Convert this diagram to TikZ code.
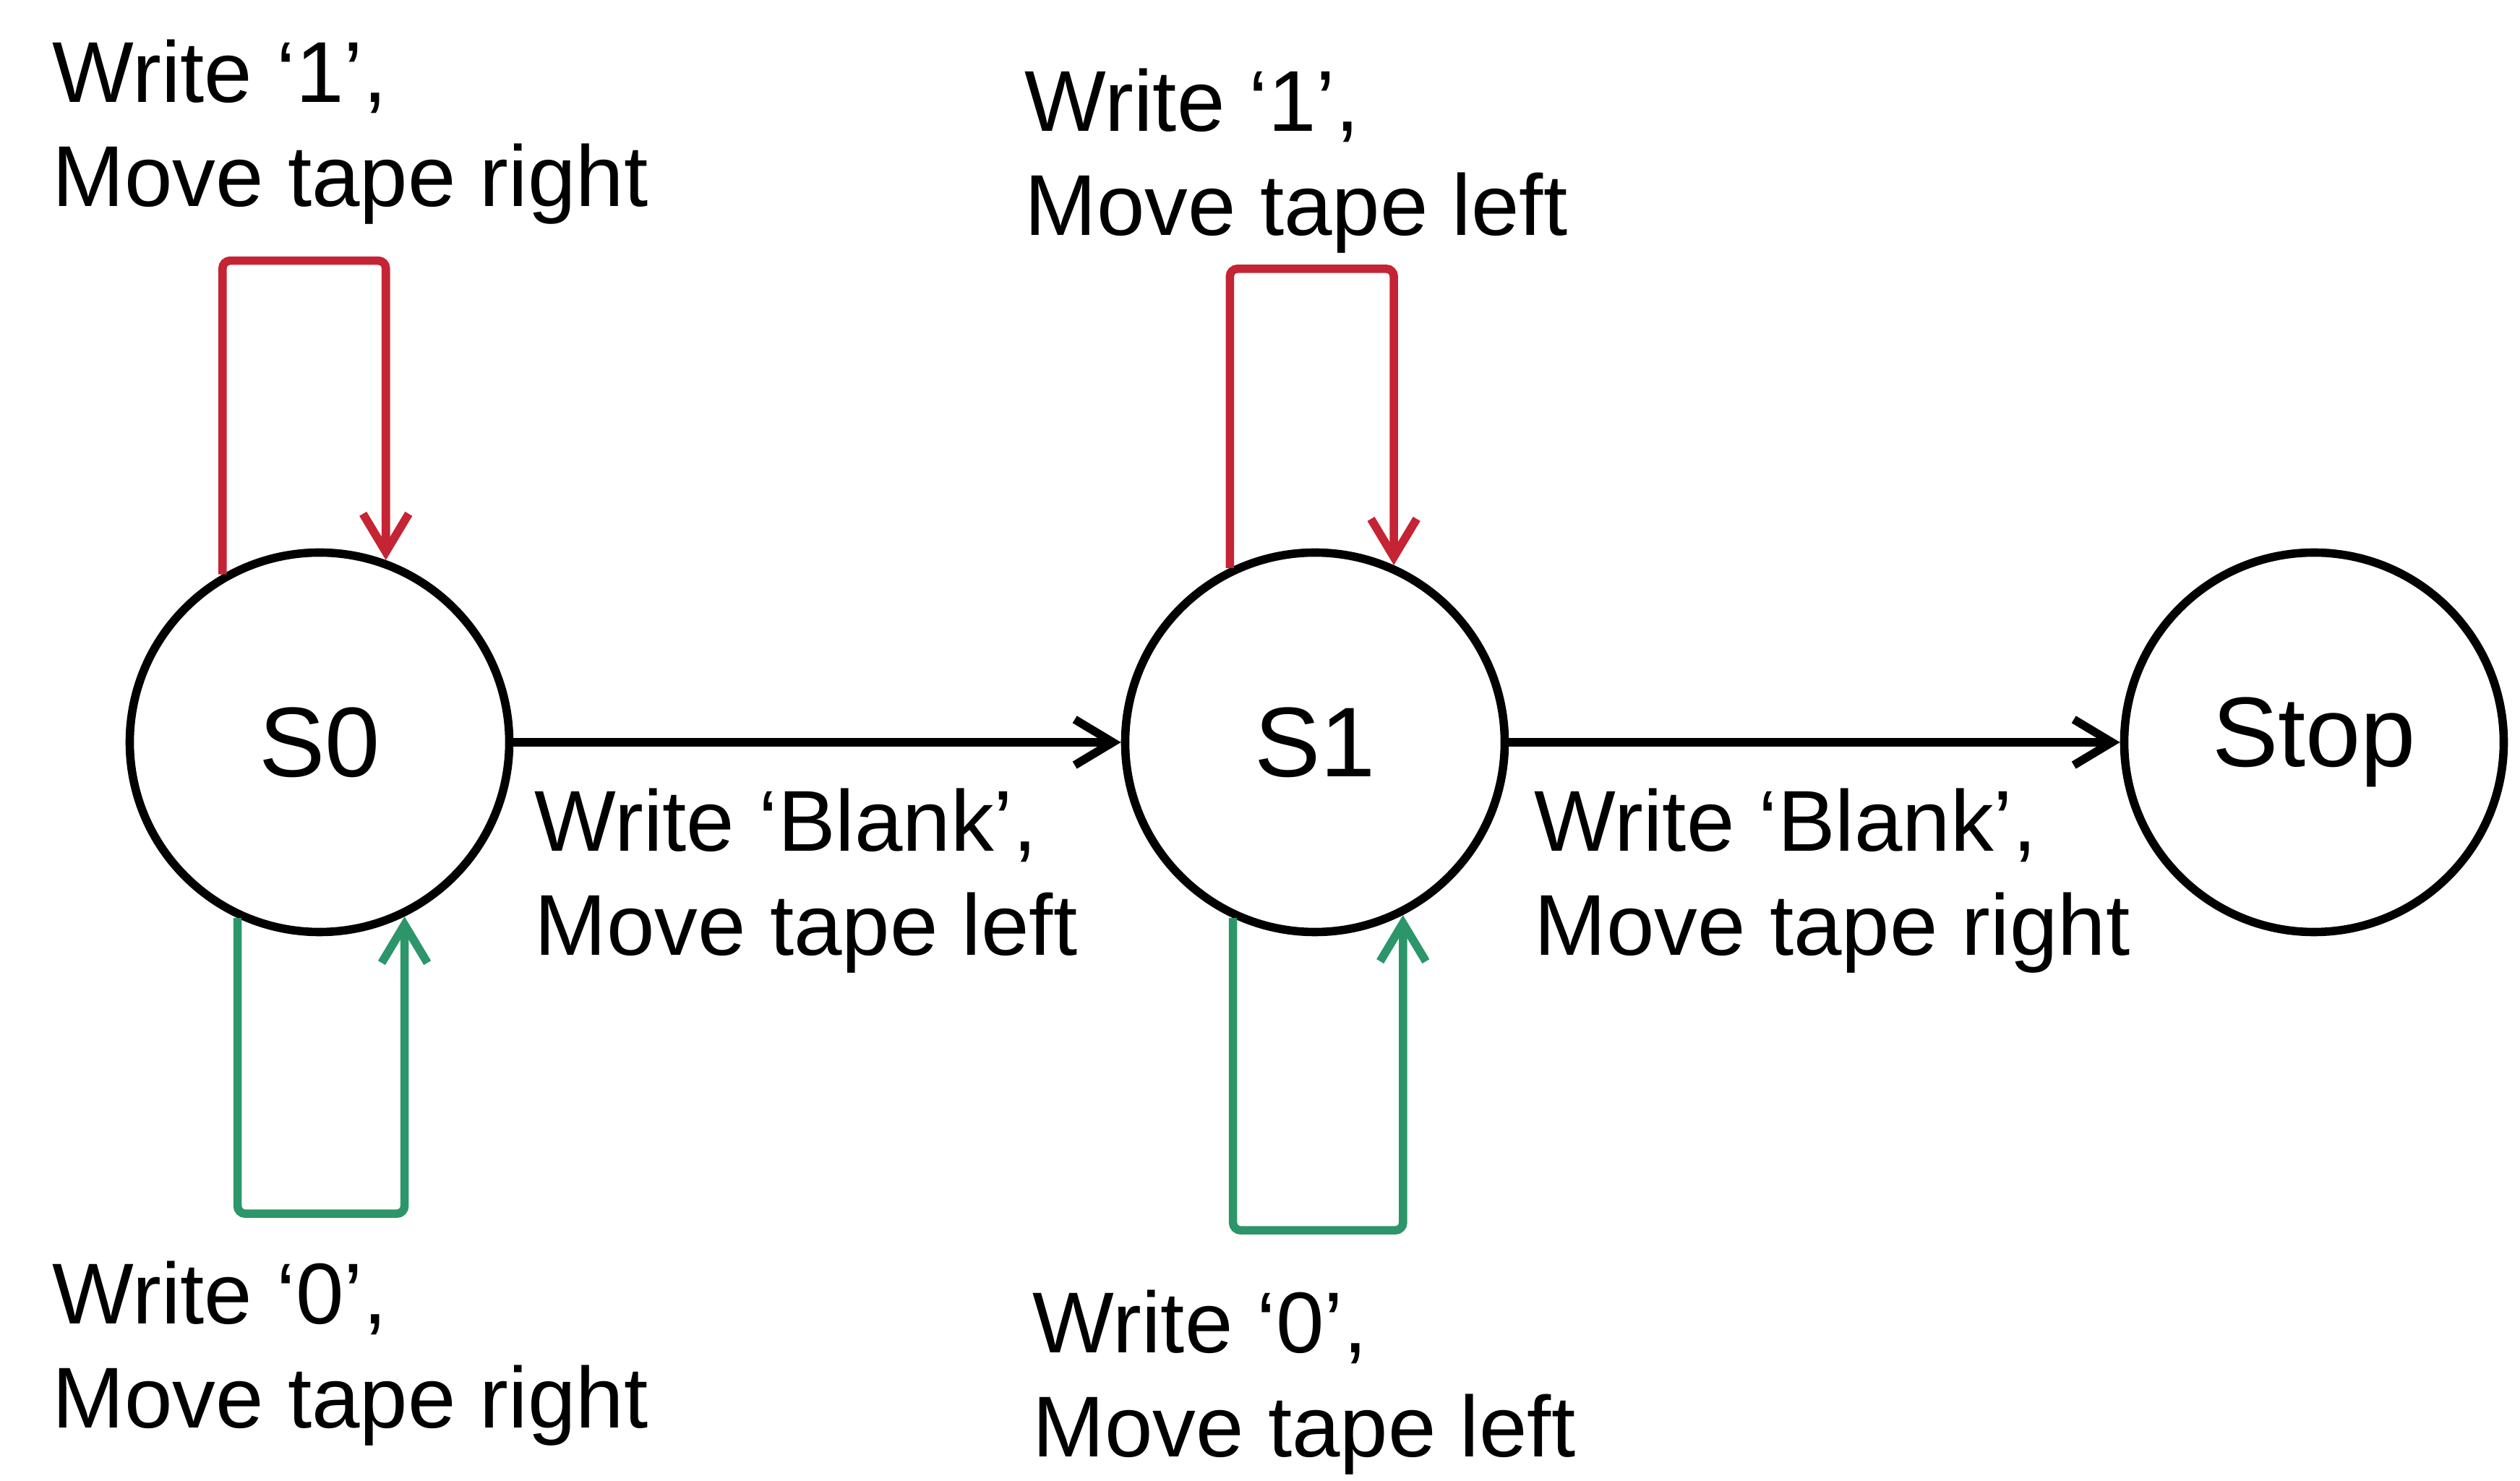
\documentclass[tikz,border=0pt]{standalone}
\usepackage{fontspec}
\setmainfont{Liberation Sans}
\usetikzlibrary{arrows.meta}
\definecolor{loopred}{RGB}{196,36,52}
\definecolor{loopgreen}{RGB}{44,150,106}

\begin{document}
\begin{tikzpicture}[>={Straight Barb[length=15pt,width=18pt]},line join=miter,line width=3.3pt,
  state/.style={circle,draw,minimum size=5.25cm,inner sep=0pt,font=\fontsize{39}{47}\selectfont},
  lbl/.style={anchor=north west,inner sep=0pt,align=left,font=\fontsize{34}{41}\selectfont},
  redloop/.style={->,draw=loopred,rounded corners=3pt},
  greenloop/.style={->,draw=loopgreen,rounded corners=3pt}]
  \useasboundingbox (0,0) rectangle (34.86,20.49);
%%
  % Node: S0
  \node[state] (s0) at (4.42,10.22) {S0};
  % Node: S1
  \node[state] (s1) at (18.19,10.22) {S1};
  % Node: Stop
  \node[state] (stop) at (32.01,10.22) {Stop};
  % Edge: S0 -> S1
  \draw[->] (s0) -- (s1);
  \node[lbl] (lbl01) at (7.34,9.64) {Write ‘Blank’,\\Move tape left};
  % Edge: S1 -> Stop
  \draw[->] (s1) -- (stop);
  \node[lbl] (lbl1stop) at (21.17,9.64) {Write ‘Blank’,\\Move tape right};
  % Edge: S0 -> S0 (red)
  \draw[redloop] (s0.120) -- ++(0,4.34) -| (s0.70);
  \node[lbl] (lbl00a) at (0.67,20.0) {Write ‘1’,\\Move tape right};
  % Edge: S0 -> S0 (green)
  \draw[greenloop] (s0.-115) -- ++(0,-4.09) -| (s0.-64);
  \node[lbl] (lbl00b) at (0.67,3.10) {Write ‘0’,\\Move tape right};
  % Edge: S1 -> S1 (red)
  \draw[redloop] (s1.116) -- ++(0,4.14) -| (s1.66);
  \node[lbl] (lbl11a) at (14.12,19.60) {Write ‘1’,\\Move tape left};
  % Edge: S1 -> S1 (green)
  \draw[greenloop] (s1.-115) -- ++(0,-4.32) -| (s1.-63);
  \node[lbl] (lbl11b) at (14.23,2.70) {Write ‘0’,\\Move tape left};
%
\end{tikzpicture}
\end{document}
